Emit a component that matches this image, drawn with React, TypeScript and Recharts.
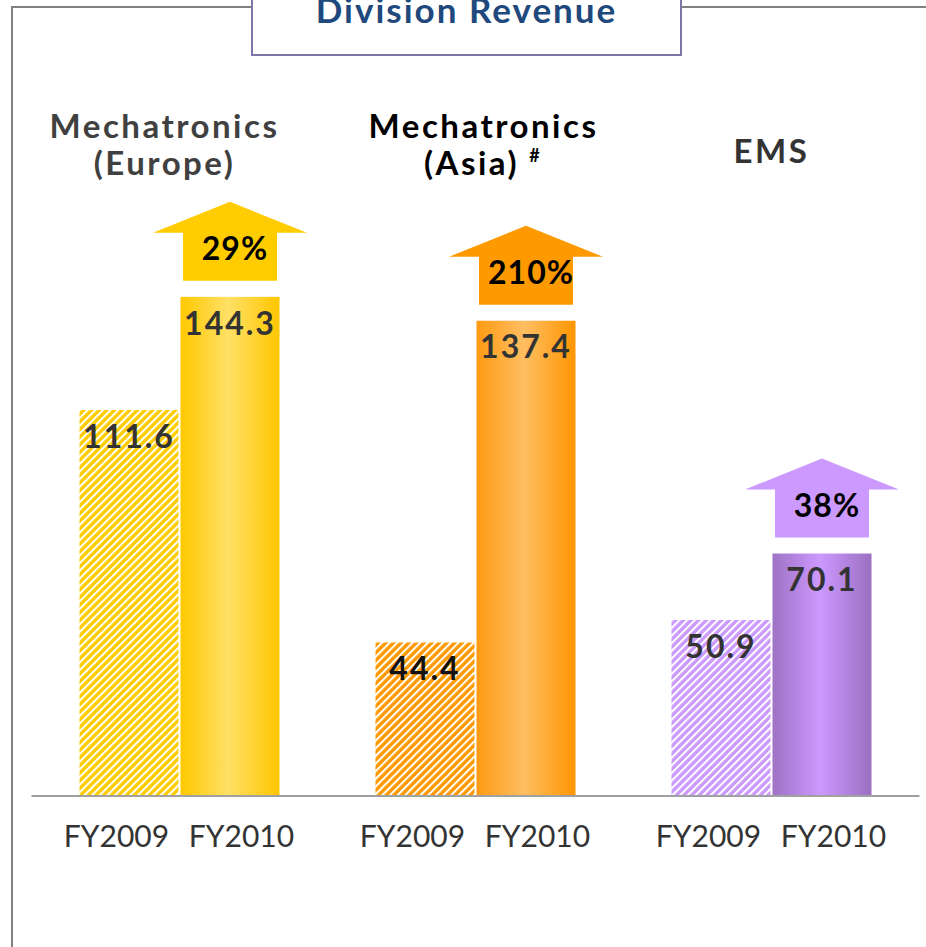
import React from 'react';
import { BarChart, Bar, XAxis, YAxis, Cell, LabelList } from 'recharts';

// division groups, two fiscal years each
const categories = ['Europe', 'Asia', 'EMS'];
const headings = [['Mechatronics', '(Europe)'], ['Mechatronics', '(Asia)'], ['EMS']];
const periods = ['FY2009', 'FY2010'];
const fy2009 = [111.6, 44.4, 50.9];
const fy2010 = [144.3, 137.4, 70.1];
const growth = ['29%', '210%', '38%'];

const baseColors = ['#FFCC00', '#FF9900', '#CC99FF'];
const gradStops = [
  ['#FFC800', '#FFE066', '#FFC600'],
  ['#FF9A12', '#FFBE62', '#FF9500'],
  ['#9E72C4', '#CC99FF', '#9B6FC0'],
];
const headingColors = ['#404040', '#000000', '#333333'];
const headingDx = [-15, 8, 0];
const oldLabelColors = ['#333333', '#111111', '#333333'];

const data = categories.map((name, i) => ({ name, fy2009: fy2009[i], fy2010: fy2010[i] }));

const FONT = 'Lato, "Open Sans", sans-serif';

const GrowthBar = (props: any) => {
  const { x, y, width, height, index } = props;
  const cx = x + width / 2;
  const shaftBottom = y - 16;
  const shaftTop = shaftBottom - 48;
  const headTop = shaftTop - 31;
  const sw = 47;
  const hw = 77;
  const pts = [
    [cx - sw, shaftBottom], [cx - sw, shaftTop], [cx - hw, shaftTop], [cx, headTop],
    [cx + hw, shaftTop], [cx + sw, shaftTop], [cx + sw, shaftBottom],
  ].map((p) => p.join(',')).join(' ');
  return (
    <g>
      <rect x={x} y={y} width={width} height={height} fill={`url(#grad${index})`} />
      <polygon points={pts} fill={baseColors[index]} />
      <text x={cx + 5} y={shaftBottom - 21} textAnchor="middle" fontFamily={FONT} fontSize={32} fontWeight={700} letterSpacing={1} fill="#000">
        {growth[index]}
      </text>
    </g>
  );
};

const OldValueLabel = (props: any) => {
  const { x, y, width, value, index } = props;
  return (
    <text x={x + width / 2} y={y + 38} textAnchor="middle" fontFamily={FONT} fontSize={32} fontWeight={700} letterSpacing={2} fill={oldLabelColors[index]}>
      {value}
    </text>
  );
};

const PeriodTick = (props: any) => {
  const { x, y } = props;
  return (
    <g>
      {periods.map((p, k) => (
        <text key={p} x={x + (k === 0 ? -63 : 62)} y={y + 51} textAnchor="middle" fontFamily={FONT} fontSize={30} fill="#333">
          {p}
        </text>
      ))}
    </g>
  );
};

const HeadingTick = (props: any) => {
  const { x, y, index } = props;
  const lines = headings[index];
  const cx = x + headingDx[index];
  const color = headingColors[index];
  const common = { textAnchor: 'middle' as const, fontFamily: FONT, fontSize: 33, fontWeight: 700, letterSpacing: 2.5, fill: color };
  if (lines.length === 1) {
    return (
      <text x={cx} y={y + 59} {...common}>
        {lines[0]}
      </text>
    );
  }
  return (
    <g>
      <text x={cx} y={y + 34} {...common}>
        {lines[0]}
      </text>
      <text x={cx - (index === 1 ? 12 : 0)} y={y + 71} {...common}>
        {lines[1]}
      </text>
      {index === 1 && (
        <text x={cx + 51} y={y + 58} textAnchor="middle" fontFamily={FONT} fontSize={18} fontWeight={700} fill={color}>
          #
        </text>
      )}
    </g>
  );
};

export default function App() {
  return (
    <div style={{ position: 'absolute', left: 0, top: 0, width: 926, height: 947, background: '#fff', overflow: 'hidden', fontFamily: FONT }}>
      {/* frame */}
      <div style={{ position: 'absolute', left: 11, top: 6, width: 2, height: 941, background: '#808080' }} />
      <div style={{ position: 'absolute', left: 11, top: 6, width: 241, height: 2, background: '#808080' }} />
      <div style={{ position: 'absolute', left: 680, top: 6, width: 246, height: 2, background: '#808080' }} />
      <div
        style={{
          position: 'absolute', left: 251, top: -20, width: 427, height: 72, border: '2px solid #7B78A8',
          background: '#fff', boxSizing: 'content-box',
        }}
      >
        <div style={{ position: 'absolute', left: 0, right: 0, top: 8, textAlign: 'center', fontSize: 35, fontWeight: 700, letterSpacing: 2, color: '#1F497D', lineHeight: '38px' }}>
          Division Revenue
        </div>
      </div>

      <BarChart
        width={926}
        height={947}
        data={data}
        margin={{ top: 0, right: 6.5, left: 31.5, bottom: 0 }}
        barSize={99}
        barGap={2}
        style={{ position: 'absolute', left: 0, top: 0 }}
      >
        <defs>
          {baseColors.map((c, i) => (
            <pattern key={`h${i}`} id={`hatch${i}`} width="5.4" height="5.4" patternUnits="userSpaceOnUse" patternTransform="rotate(45)">
              <rect width="5.4" height="5.4" fill={c} />
              <rect width="2" height="5.4" fill="#fff" />
            </pattern>
          ))}
          {gradStops.map((s, i) => (
            <linearGradient key={`g${i}`} id={`grad${i}`} x1="0" y1="0" x2="1" y2="0">
              <stop offset="0" stopColor={s[0]} />
              <stop offset="0.48" stopColor={s[1]} />
              <stop offset="1" stopColor={s[2]} />
            </linearGradient>
          ))}
        </defs>
        <XAxis
          xAxisId="top"
          orientation="top"
          dataKey="name"
          height={104.2}
          axisLine={false}
          tickLine={false}
          tickSize={0}
          tickMargin={0}
          tick={<HeadingTick />}
          interval={0}
        />
        <XAxis
          dataKey="name"
          height={151}
          axisLine={{ stroke: '#A0A0A0', strokeWidth: 2 }}
          tickLine={false}
          tickSize={0}
          tickMargin={0}
          tick={<PeriodTick />}
          interval={0}
        />
        <YAxis hide domain={[0, 200]} />
        <Bar dataKey="fy2009" isAnimationActive={false}>
          {data.map((d, i) => (
            <Cell key={d.name} fill={`url(#hatch${i})`} />
          ))}
          <LabelList dataKey="fy2009" content={<OldValueLabel />} />
        </Bar>
        <Bar dataKey="fy2010" isAnimationActive={false} shape={<GrowthBar />}>
          <LabelList
            dataKey="fy2010"
            position="insideTop"
            offset={15}
            fill="#333"
            fontFamily={FONT}
            fontSize={32}
            fontWeight={700}
            letterSpacing={2}
          />
        </Bar>
      </BarChart>
    </div>
  );
}
